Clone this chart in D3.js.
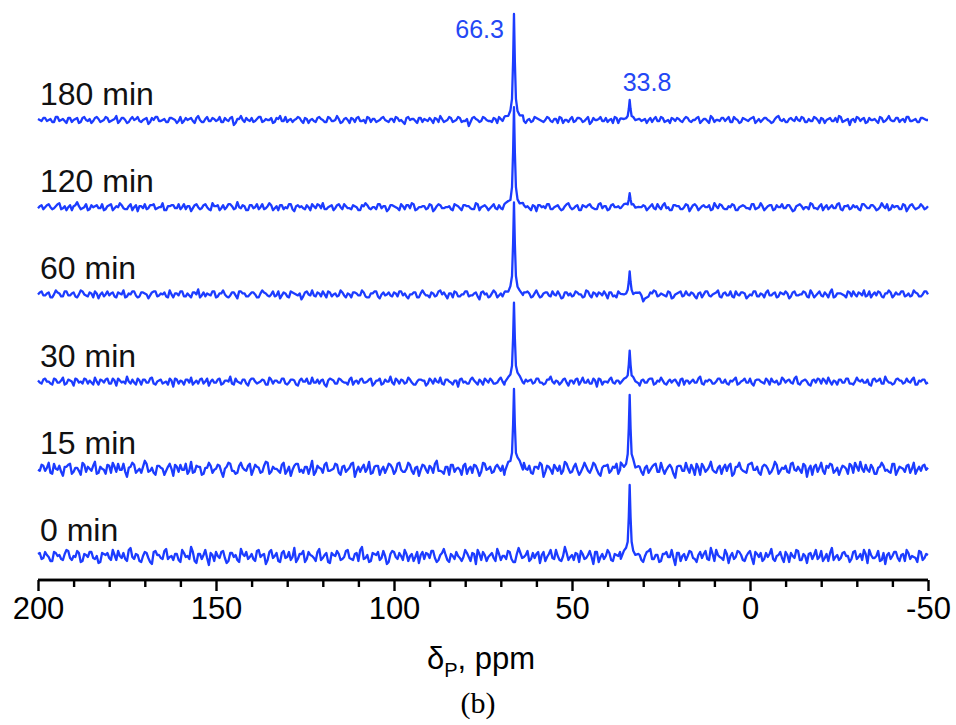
<!DOCTYPE html>
<html>
<head>
<meta charset="utf-8">
<script src="https://cdn.jsdelivr.net/npm/d3@7"></script>
<style>
  body { margin: 0; background: #fff; }
  svg { display: block; font-family: "Liberation Sans", Arial, sans-serif; }
</style>
</head>
<body>
<svg id="canvas" width="956" height="725"></svg>
<script>
// spectra, bottom to top
const labels = ["0 min", "15 min", "30 min", "60 min", "120 min", "180 min"];

// peak positions (ppm) and heights in each spectrum
const peakPpm = [66.3, 33.8];
const peak663 = [0, 80, 79, 92, 100, 106];
const peak338 = [71, 74, 31, 23, 14, 20];

// line shape of one peak: offset (ppm) and relative height
const shapeOffset = [-2.5, -1.6, -1.0, -0.55, -0.25, 0, 0.25, 0.55, 1.0, 1.6, 2.5];
const shapeHeight = [0.02, 0.05, 0.09, 0.2, 0.55, 1, 0.55, 0.2, 0.09, 0.05, 0.02];

// baseline noise read every 1 ppm from 200 down to -50
const noise0 = [2,-3,4,-1,-5,3,1,-4,6,-2, 0,5,-6,2,-1,4,-3,-7,3,1, -2,6,-4,0,3,-5,8,-3,1,-6,
  4,-2,-8,5,1,-3,7,-1,-4,2, -6,3,0,9,-5,2,-3,6,-9,1, 4,-2,5,-7,3,-1,-4,7,0,-3,
  2,-5,6,1,-8,4,-2,3,-6,5, -1,-4,8,-3,2,-6,4,0,-5,7, -2,3,-7,1,5,-4,-1,6,-3,2,
  -5,9,-2,-6,3,1,-4,5,-8,2, 4,-3,0,6,-5,2,-1,-7,4,3, -2,5,-6,1,7,-4,2,-3,0,-5,
  6,-1,3,-8,2,4,-5,1,-2,7, -4,0,5,-3,-6,8,-2,1,-5,3, 2,-7,4,-1,6,-3,0,-5,9,-4,
  1,3,-6,2,-2,5,-8,4,-1,-3, 6,-4,2,0,-7,3,5,-2,-4,1, -6,4,7,-3,1,-5,2,-1,6,-9,
  3,0,-4,5,-2,-6,4,2,-3,8, -5,1,-2,6,-7,3,-1,4,-4,0, 5,-8,2,3,-3,-1,7,-5,1,-2,
  4,-6,0,6,-4,2,-7,3,1,-3, 5,-2,-5,8,-1,-4,3,0,-6,4, -3,2,6,-7,1,-2,5,-4,-8,3,
  0,4,-5,2,6,-3,-1,-6,4,-2, 1];
const noise15 = [-1,4,-2,6,-5,0,3,-7,2,5, -3,1,-6,4,2,-2,7,-4,0,-5, 3,6,-3,-1,5,-8,2,4,-2,-4,
  8,-3,1,-6,3,0,-2,5,-7,2, 4,-1,-5,7,-3,2,-6,1,6,-4, 0,3,-8,2,5,-2,-4,6,-1,3,
  -6,4,1,-3,7,-5,2,0,-4,6, -2,-7,3,5,-1,2,-5,8,-3,1, -4,6,-2,0,4,-6,3,-1,5,-8,
  2,1,-3,7,-4,3,-6,2,0,4, -5,5,-1,-3,6,-2,1,-7,4,-1, 3,-4,8,-2,-5,2,4,-3,1,-6,
  5,0,-4,3,-7,6,-1,2,-3,4, -2,-6,5,1,-3,7,-4,0,3,-5, 2,6,-8,3,-1,4,-2,-5,7,0,
  -3,5,-6,1,2,-4,6,-1,-7,3, 4,-2,1,-5,8,-3,0,5,-4,2, -6,3,-1,4,-3,6,-5,2,1,-9,
  3,-2,6,-4,0,5,-6,2,-1,7, -3,1,-5,4,3,-7,2,6,-2,-4, 5,-1,2,-6,4,0,-3,7,-5,1,
  3,-4,6,-2,-1,5,-8,3,2,-3, 6,-5,1,4,-2,-6,3,0,5,-4, 2,7,-3,-1,4,-5,1,6,-2,-3,
  5,-6,2,0,3,-4,6,-1,-2,4, 1];
const noise30 = [1,-2,3,0,-3,2,-1,4,-2,1, -4,2,0,3,-2,-1,4,-3,1,2, -2,3,-4,1,0,5,-2,-1,3,-3,
  2,-1,4,-3,1,-2,0,3,-5,2, 1,-3,2,4,-1,-2,3,0,-4,2, -1,3,-2,1,5,-3,0,-2,2,-4,
  3,0,-1,2,-3,4,-2,1,-1,3, -3,2,1,-4,3,0,-2,4,-1,-2, 2,-5,3,1,-2,2,-1,-3,4,0,
  -2,3,-1,2,-4,1,3,-2,0,5, -3,1,2,-2,4,-1,-3,2,1,-4, 3,-2,0,4,-3,2,-1,1,-5,3,
  0,-2,4,-1,2,-3,1,3,-2,-1, 4,-3,1,0,-2,3,-4,2,1,-2, 3,-1,-3,2,5,-2,0,-1,3,-4,
  1,2,-3,4,-1,-2,3,-5,2,0, -1,4,-2,1,-3,2,0,3,-2,-4, 2,-1,3,-3,1,4,-2,0,-1,2,
  -4,3,1,-2,2,-1,5,-3,0,1, -2,3,-1,2,-3,0,4,-2,1,-1, 3,-4,2,0,-2,1,3,-1,-3,4,
  -1,2,-2,5,-3,1,0,-4,2,3, -2,1,4,-3,0,2,-1,3,-2,-3, 4,0,-1,2,-4,3,1,-2,5,-1,
  -3,2,1,-2,3,-1,4,-3,0,2, -1];
const noise60 = [0,3,-1,2,-3,4,1,-2,3,-1, 2,-3,4,0,-2,1,3,-4,2,0, -1,2,-3,1,4,-2,0,3,-3,2,
  1,-4,2,3,-1,0,-2,4,-3,1, 3,-2,1,-3,2,5,-1,-2,0,3, -3,1,4,-2,-1,2,-4,3,1,-2,
  2,0,-3,4,1,-2,3,-1,-4,2, -2,3,1,-1,-5,2,0,4,-2,1, 3,-3,2,0,-2,4,-1,1,-3,2,
  -1,4,-2,-3,1,3,-4,2,0,-1, 2,-2,3,1,-4,0,2,-3,4,-1, -3,1,-1,4,2,-4,1,3,-2,0,
  3,-2,-1,2,-5,3,1,-2,4,-3, 1,2,-3,0,3,-1,-4,2,1,-2, 4,-3,1,2,-2,0,3,-4,2,-1,
  -2,3,0,-3,4,-1,2,-2,1,3, -4,2,-1,3,0,-2,4,-3,1,2, -7,-3,2,4,-2,1,-1,3,-4,0,
  2,-2,3,-1,1,-4,2,0,3,-2, 1,4,-3,2,-1,-2,3,-1,2,-4, 0,3,-2,1,-3,4,-1,2,-2,1,
  3,-4,2,-1,0,3,-2,4,-3,1, -1,2,-3,5,-2,1,0,-3,2,3, -2,1,4,-1,-3,2,3,-2,1,4,
  -3,2,0,3,-1,-2,4,1,-2,3, 0];
const noise120 = [-1,2,0,3,-2,1,4,-1,-3,2, 1,5,-2,0,-3,2,1,-1,3,-2, 2,-3,1,4,-1,-2,3,0,-4,1,
  3,-1,2,-2,0,4,-3,1,2,-1, -2,3,1,-4,2,0,-1,3,-2,4, 1,-3,2,0,3,-2,5,-1,1,-3,
  2,0,-2,3,-1,4,-3,1,2,-2, -1,3,-4,2,1,-2,0,3,-1,2, 4,-2,1,-3,2,0,3,-1,-2,1,
  -3,2,4,-1,0,-2,3,1,-4,2, 1,-1,3,-2,2,4,-3,0,1,-2, 3,-4,1,2,-1,0,-2,3,1,-3,
  2,1,-2,4,-3,1,0,-1,3,-2, -1,3,2,-3,1,-2,4,0,-1,2, -4,2,1,3,-2,0,2,-3,1,4,
  -2,1,-3,2,0,3,-1,-2,4,1, -3,2,0,1,-2,4,-1,3,-2,0, 2,-3,1,-1,3,-2,4,0,-3,2,
  1,-2,3,-4,2,1,-1,2,0,-3, 4,-1,2,-2,1,3,-3,0,2,-1, -2,3,-1,4,-3,1,2,-2,0,3,
  -1,2,-4,1,3,-2,0,4,-1,-2, 3,0,-2,2,-1,4,-3,1,-2,2, 1,-3,3,-1,2,0,-2,4,-1,-3,
  2,1,-2,3,-4,2,0,-1,3,-2, 1];
const noise180 = [1,-1,2,0,-2,3,-1,1,-3,2, 0,2,-2,3,-1,-3,2,1,-1,3, -2,0,4,-1,2,-3,1,0,3,-2,
  1,-4,2,3,-1,0,-2,2,1,-3, 3,-1,0,2,-3,4,-2,1,-1,2, -1,3,-2,0,2,-5,1,4,-2,0,
  2,-1,3,-2,1,0,-3,2,4,-1, -2,1,0,3,-1,2,-3,1,-2,3, 0,-2,2,-1,4,-3,1,0,2,-2,
  3,-1,-3,2,1,-2,0,3,-1,1, -2,2,0,-4,3,1,-1,2,-2,0, 2,-3,1,4,-2,0,2,-1,3,-2,
  -1,-6,2,1,-2,3,0,-1,2,-3, 1,3,-2,0,2,-1,4,-3,1,-1, 2,0,-2,3,-1,1,-3,2,0,-2,
  3,-1,2,-2,1,-4,2,0,3,-1, -2,1,3,-3,2,0,-1,2,-2,1, 0,-3,2,1,-1,3,-2,0,2,-1,
  1,-2,3,-1,0,2,-3,1,-1,4, -2,0,2,-1,3,-2,1,-3,2,0, 1,3,-1,-2,2,0,-3,1,4,-1,
  -2,1,0,3,-1,2,-2,-1,3,0, 2,-3,1,-1,2,4,-2,0,-5,1, 3,-1,2,-2,0,1,-3,2,-1,4,
  -1,2,-2,1,3,-1,0,-2,2,1, 0];

// noise read at the half-ppm points, 199.5 down to -49.5
const half0 = [3,-2,1,-5,4,0,-3,2,5,-4, -1,3,-5,1,4,-2,0,-6,2,3, -4,1,5,-2,-3,6,-1,2,-5,0,
  3,-6,4,1,-2,5,-3,0,2,-4, 6,-1,-3,4,-7,2,1,-2,3,-5, 0,4,-2,-5,3,1,-6,2,4,-1,
  -3,5,-1,2,-4,6,0,-5,3,-2, 4,-1,-6,2,5,-3,1,-2,4,-4, 1,-6,3,0,2,-3,5,-2,-4,3,
  6,-3,1,-5,2,4,-2,0,-6,5, -1,3,-4,2,0,-5,4,1,-3,2, 5,-2,-4,3,1,-6,0,4,-2,-1,
  3,-5,2,6,-4,1,-1,3,-5,2, 0,-3,4,-6,2,3,-1,5,-3,-2, 4,1,-5,2,-2,6,-4,0,3,-1,
  -4,2,5,-3,1,-1,4,-6,2,0, 3,-5,1,4,-3,-1,6,-2,2,-4, 0,5,-3,1,-6,2,4,-1,-2,3,
  -5,2,0,4,-3,1,-2,5,-4,2, 6,-1,-4,2,0,-3,5,1,-5,3, -2,4,-1,-5,3,2,-3,0,4,-6,
  1,3,-2,5,-4,0,2,-3,6,-1, -5,2,3,-4,1,-2,4,0,-3,5, -1,-4,2,6,-2,0,-5,3,1,-3,
  4,-2,1,-5,3,0,-2,5,-4,2];
const half15 = [-2,3,1,-4,5,-1,-3,2,4,-5, 1,-2,6,-3,0,3,-5,2,-1,4, -4,2,5,-1,-3,1,6,-4,0,2,
  5,-2,-4,3,1,-6,2,0,4,-3, -1,5,-2,-4,3,2,-5,1,3,-1, 4,-3,0,6,-2,-5,3,1,-2,5,
  -1,2,-4,3,6,-3,0,-2,4,-5, 2,-1,5,-3,-4,2,1,-6,3,0, 4,-2,-1,5,-4,2,-3,1,6,-2,
  -3,4,0,-5,2,3,-1,-4,5,1, -2,6,-3,0,4,-5,2,-1,3,-4, 1,5,-2,-3,2,-6,4,0,-1,3,
  -5,2,4,-1,-3,5,0,-4,2,1, 3,-2,-5,4,1,-3,6,-1,-4,2, 0,4,-3,2,-5,1,3,-2,5,-4,
  2,-1,-3,6,-2,0,4,-5,1,3, -4,2,5,-1,-2,3,-6,2,4,-3, 1,-4,2,5,-3,0,-1,4,-5,2,
  3,-2,0,4,-6,1,5,-3,2,-1, -4,3,1,-2,5,-5,2,0,-3,4, 6,-1,-4,2,3,-5,1,4,-2,0,
  -3,5,-1,2,-4,3,0,-6,4,1, -2,3,5,-4,1,-1,2,-5,3,6, -2,0,4,-3,1,-5,2,3,-1,-4,
  5,-2,1,-3,4,0,-5,2,3,-1];
const half30 = [-1,2,0,-2,3,-1,1,-3,2,0, 3,-1,-2,2,1,-3,0,2,-1,3, -2,1,3,-1,-2,0,2,-3,1,2,
  -1,3,-2,0,2,-1,-3,1,3,-2, 0,2,-1,-3,1,2,-2,3,0,-1, 2,-3,1,0,-2,3,-1,2,-2,1,
  3,-2,0,1,-3,2,1,-1,3,-2, -1,2,-3,1,0,3,-2,-1,2,1, -3,1,2,-2,3,0,-1,2,-3,1,
  2,-1,0,3,-2,1,-3,2,0,-1, 3,-2,1,-1,2,-3,0,2,1,-2, 1,3,-1,-2,2,0,-3,1,2,-1,
  -2,2,1,-3,0,3,-1,1,-2,2, 0,-3,2,1,-1,3,-2,0,2,-1, 3,-1,-2,2,0,1,-3,2,-1,1,
  -2,3,0,-1,2,-2,1,3,-3,0, 2,-1,1,-2,3,-1,0,2,-3,1, -1,2,3,-2,0,1,-3,2,1,-1,
  2,-3,1,0,-1,3,-2,1,2,-2, 0,3,-1,-2,1,2,-3,0,3,-1, -2,1,2,-1,3,-3,0,1,-2,2,
  1,-1,3,-2,0,2,-3,1,-1,2, 3,-2,0,1,-3,2,-1,3,-2,0, 1,2,-1,-3,2,0,3,-2,1,-1,
  -2,3,1,-1,0,2,-3,1,2,-2];
const half60 = [2,-1,1,-3,0,2,-2,3,-1,1, -2,0,3,-1,2,-3,1,0,-2,3, 1,-2,2,0,-3,1,3,-1,-2,2,
  0,-1,3,-2,1,2,-3,0,1,-1, 3,-2,-1,2,0,-3,2,1,-1,3, -2,1,0,-3,2,-1,3,1,-2,0,
  2,-3,1,2,-1,0,-2,3,-1,1, -3,2,0,1,-2,3,-1,-1,2,-2, 0,3,-2,1,-1,2,-3,0,2,1,
  -1,2,-3,1,3,-2,0,-1,2,-2, 1,3,-1,-2,0,2,-3,1,1,-1, 2,-2,3,0,-1,1,-3,2,-2,0,
  3,-1,1,-2,2,0,-3,1,2,-1, -2,3,-1,0,1,-2,2,3,-3,1, 0,-2,2,-1,3,-1,0,-3,2,1,
  -1,2,0,-2,3,-3,1,2,-1,0, 2,-2,-3,1,-1,3,0,-2,2,-1, -4,-2,1,3,-1,0,-2,2,-3,1,
  3,-1,0,2,-2,1,-3,3,-1,0, 2,-2,1,-1,3,-3,0,2,1,-2, -1,3,-2,0,2,-1,1,-3,2,0,
  1,-2,3,-1,0,2,-3,1,-1,3, -2,0,2,-3,1,1,-1,3,-2,0, 2,-1,-2,3,0,-1,2,-3,1,2,
  -1,0,3,-2,1,-1,2,-2,0,3];
const half120 = [1,-2,2,0,-1,3,-2,1,0,-3, 2,1,-1,3,-2,0,2,-1,-3,1, 3,-1,0,2,-2,1,-3,2,1,-1,
  -2,2,3,-1,0,-3,1,2,-1,3, 0,-2,1,-1,3,-2,2,0,-3,1, 2,-1,-2,3,1,-1,0,2,-3,2,
  -1,3,0,-2,1,2,-1,-3,2,0, 3,-2,1,0,-1,2,-3,1,3,-1, -2,0,2,-1,3,-2,1,-1,2,0,
  -3,1,2,-2,0,3,-1,1,-2,2, 0,-3,1,2,-1,3,-2,0,1,-1, 2,-2,3,-1,0,1,-3,2,-1,2,
  1,-1,-2,3,0,2,-3,1,-1,2, -2,1,3,-1,0,-2,2,1,-3,1, 2,0,-1,3,-2,1,-1,-2,3,0,
  -1,2,-3,1,2,0,-2,3,-1,1, -2,3,0,-1,2,-3,1,2,-2,0, 1,-1,3,-2,0,2,-1,-3,2,1,
  -2,0,2,-1,3,-3,1,0,2,-2, 1,3,-1,-2,0,2,-3,1,1,-1, 3,-2,0,1,-1,2,-3,2,0,-1,
  2,-1,-3,2,1,0,-2,3,-1,1, -3,2,0,-1,3,-2,1,2,-1,0, -2,3,1,-1,2,-3,0,1,3,-2,
  0,1,-2,2,-1,3,-2,0,1,-1];
const half180 = [0,2,-1,1,-2,3,0,-1,2,-2, 1,-3,2,0,1,-1,3,-2,0,2, -1,1,-3,2,0,-2,3,1,-1,0,
  2,-2,0,3,-1,1,-2,2,0,-1, -3,2,1,-1,2,0,-2,3,-1,1, 0,-2,2,-1,3,-3,1,0,2,-1,
  -2,1,3,-1,0,2,-2,1,-1,3, 0,-2,1,2,-3,1,0,-1,2,1, -2,3,-1,0,1,-2,2,-3,1,2,
  -1,0,3,-2,1,-1,2,0,-2,1, 3,-1,-2,2,0,1,-3,2,1,-1, 0,2,-2,1,-1,3,-2,0,2,-1,
  1,-2,3,0,-1,2,-1,-2,1,3, -1,0,2,-3,1,2,-1,0,-2,3, 1,-1,0,2,-2,1,3,-3,0,1,
  -2,2,1,-1,3,-2,0,1,-1,2, 0,-3,2,1,-1,0,2,-2,3,-1, 1,0,-2,3,-1,2,-1,-3,1,2,
  -1,1,2,-2,0,3,-1,1,-3,2, 0,-1,2,1,-2,3,0,-2,1,-1, 2,-3,1,0,2,-1,-2,3,0,1,
  -2,2,-1,0,3,-2,1,-1,2,-3, 1,0,2,-1,-2,3,-1,1,0,-2, 2,1,-3,2,0,-1,3,-2,1,0,
  -1,2,0,-2,3,-1,1,-2,2,0];

const noiseSets = [noise0, noise15, noise30, noise60, noise120, noise180];
const halfSets = [half0, half15, half30, half60, half120, half180];
const peakSets = [peak663, peak338];
const xTicks = d3.range(200, -51, -10);

const svg = d3.select("#canvas");
const blue = "#1c3cff";

const x = d3.scaleLinear().domain([200, -50]).range([38, 928]);
const spacing = 87.2;
const y = d3.scaleLinear().domain([0, 5 * spacing]).range([556, 120]);

// build each spectrum: noise points with the peak shapes put in
function buildSpectrum(i) {
  const noise = noiseSets[i];
  const pts = [];
  const nearPeak = ppm => peakPpm.some((c, p) => peakSets[p][i] > 0 && Math.abs(ppm - c) < 2.6);
  noise.forEach((v, k) => {
    if (!nearPeak(200 - k)) pts.push([200 - k, v]);
  });
  halfSets[i].forEach((v, k) => {
    if (!nearPeak(199.5 - k)) pts.push([199.5 - k, v]);
  });
  peakPpm.forEach((c, p) => {
    const h = peakSets[p][i];
    if (h <= 0) return;
    shapeOffset.forEach((o, s) => {
      const ppm = c + o;
      const k = Math.round(200 - ppm);
      const base = Math.abs(o) > 0.9 ? noise[k] * 0.6 : 0;
      pts.push([ppm, h * shapeHeight[s] + base]);
    });
  });
  pts.sort((a, b) => b[0] - a[0]);
  return pts;
}

const line = d3.line()
  .x(d => x(d[0]))
  .y(d => d[1]);

labels.forEach((lab, i) => {
  const off = i * spacing;
  const pts = buildSpectrum(i).map(d => [d[0], y(off + d[1])]);
  svg.append("path")
    .attr("d", line(pts))
    .attr("fill", "none")
    .attr("stroke", blue)
    .attr("stroke-width", 2.3)
    .attr("stroke-linejoin", "round");

  svg.append("text")
    .attr("x", 40)
    .attr("y", y(off) - 15)
    .attr("font-size", "32px")
    .attr("fill", "#111")
    .text(lab);
});

// peak labels
svg.append("text")
  .attr("x", x(peakPpm[0]) - 10)
  .attr("y", 38)
  .attr("text-anchor", "end")
  .attr("font-size", "25px")
  .attr("fill", "#2447f5")
  .text("66.3");
svg.append("text")
  .attr("x", x(peakPpm[1]) - 7)
  .attr("y", 91)
  .attr("font-size", "25px")
  .attr("fill", "#2447f5")
  .text("33.8");

// x axis: minor ticks every 10 ppm, labelled ticks every 50
const axisY = 580;
const minor = svg.append("g")
  .attr("transform", `translate(0,${axisY})`)
  .call(d3.axisBottom(x).tickValues(xTicks.filter(t => t % 50 !== 0)).tickSize(7).tickFormat(""));
const major = svg.append("g")
  .attr("transform", `translate(0,${axisY})`)
  .call(d3.axisBottom(x).tickValues(xTicks.filter(t => t % 50 === 0)).tickSize(11).tickPadding(6)
    .tickFormat(d => String(d)));

[minor, major].forEach(g => {
  g.select(".domain").attr("stroke", "#000").attr("stroke-width", 2.6)
    .attr("d", `M${x(200)},0H${x(-50)}`);
  g.selectAll(".tick line").attr("stroke", "#000").attr("stroke-width", 2.4);
});
major.selectAll(".tick text")
  .attr("font-size", "31px")
  .attr("font-family", "'Liberation Sans', Arial, sans-serif")
  .attr("fill", "#000");

// axis title
const title = svg.append("text")
  .attr("x", 481)
  .attr("y", 669)
  .attr("text-anchor", "middle")
  .attr("font-size", "31px")
  .attr("fill", "#000");
title.append("tspan").text("δ");
title.append("tspan").attr("font-size", "20px").attr("dy", 8).text("P");
title.append("tspan").attr("dy", -8).text(", ppm");

svg.append("text")
  .attr("x", 478)
  .attr("y", 713)
  .attr("text-anchor", "middle")
  .attr("font-size", "30px")
  .attr("font-family", "'Liberation Serif', 'Times New Roman', serif")
  .attr("fill", "#000")
  .text("(b)");
</script>
</body>
</html>
